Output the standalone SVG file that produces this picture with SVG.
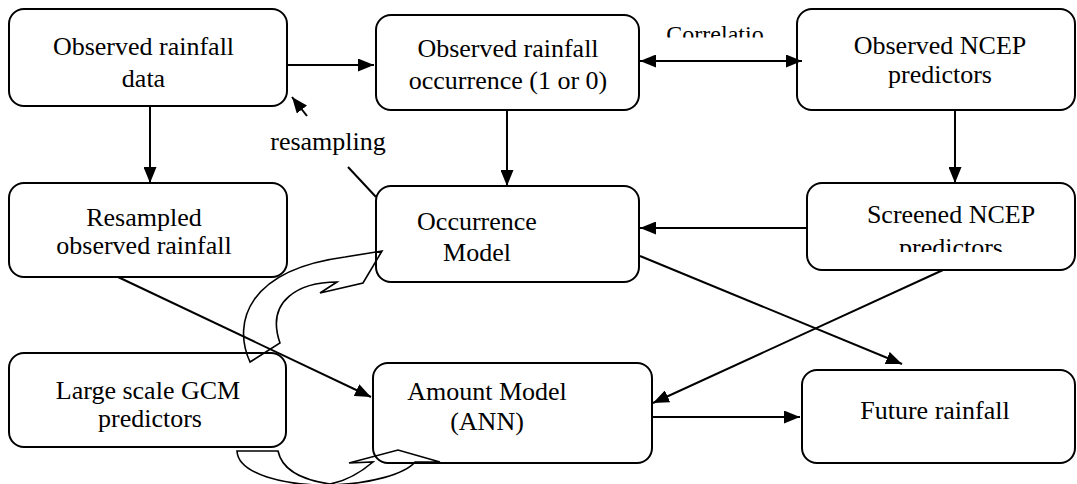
<svg xmlns="http://www.w3.org/2000/svg" width="1077" height="484" viewBox="0 0 1077 484">
<style>
.box{fill:#fff;stroke:#000;stroke-width:2}
.t{font-family:"Liberation Serif","Times New Roman",serif;font-size:26px;fill:#000;text-anchor:middle}
.c{stroke:#000;stroke-width:2;fill:none}
.a{marker-end:url(#ah)}
.cv{fill:none;stroke:#000;stroke-width:1.6;stroke-linejoin:miter}
</style>
<defs>
<marker id="ah" markerUnits="userSpaceOnUse" markerWidth="17" markerHeight="13" refX="16" refY="6.5" orient="auto-start-reverse" viewBox="0 0 17 13">
<path d="M0,0 L16,6.5 L0,13 z" fill="#000"/>
</marker>
<clipPath id="clipCorr"><rect x="600" y="0" width="200" height="37.5"/></clipPath>
<clipPath id="clipPred"><rect x="800" y="180" width="277" height="72"/></clipPath>
</defs>
<rect width="1077" height="484" fill="#fff"/>
<g id="n1"><rect class="box" x="9" y="9" width="278" height="97" rx="15"/><text class="t" x="143.5" y="55">Observed rainfall</text><text class="t" x="143.5" y="87">data</text></g>
<g id="n2"><rect class="box" x="376" y="15" width="263" height="95" rx="15"/><text class="t" x="508" y="57">Observed rainfall</text><text class="t" x="508" y="89">occurrence (1 or 0)</text></g>
<g id="n3"><rect class="box" x="797" y="9" width="278" height="101" rx="15"/><text class="t" x="940" y="54">Observed NCEP</text><text class="t" x="940" y="83">predictors</text></g>
<g id="n4"><rect class="box" x="9" y="183" width="278" height="94" rx="15"/><text class="t" x="144" y="226">Resampled</text><text class="t" x="144" y="254">observed rainfall</text></g>
<g id="n5"><rect class="box" x="376" y="186" width="263" height="96" rx="15"/><text class="t" x="477" y="230">Occurrence</text><text class="t" x="477" y="261">Model</text></g>
<g id="n6"><rect class="box" x="807" y="183" width="268" height="87" rx="15"/><text class="t" x="951" y="223">Screened NCEP</text><text class="t" x="951" y="256" clip-path="url(#clipPred)">predictors</text></g>
<g id="n7"><rect class="box" x="9" y="353" width="277" height="94" rx="15"/><text class="t" x="148" y="399">Large scale GCM</text><text class="t" x="150" y="427">predictors</text></g>
<g id="n8"><rect class="box" x="373" y="363" width="279" height="100" rx="15"/><text class="t" x="487" y="400">Amount Model</text><text class="t" x="487" y="430">(ANN)</text></g>
<g id="n9"><rect class="box" x="802" y="370" width="273" height="93" rx="15"/><text class="t" x="935" y="419">Future rainfall</text></g>
<g id="labels">
<text class="t" x="715" y="42" style="font-size:24px" clip-path="url(#clipCorr)">Correlatio</text>
<text class="t" x="328" y="150">resampling</text>
</g>
<g id="connectors">
<line class="c a" x1="287" y1="65" x2="374" y2="65"/>
<line class="c a" x1="307" y1="116" x2="292" y2="97"/>
<line class="c" x1="348" y1="167" x2="376" y2="197"/>
<line class="c a" x1="150" y1="107" x2="150" y2="183"/>
<line class="c a" x1="507" y1="111" x2="507" y2="186"/>
<line class="c" x1="640" y1="61" x2="802" y2="61" marker-start="url(#ah)" marker-end="url(#ah)"/>
<line class="c a" x1="955" y1="111" x2="955" y2="183"/>
<line class="c a" x1="807" y1="228" x2="640" y2="228"/>
<line class="c a" x1="640" y1="256" x2="902" y2="364"/>
<line class="c a" x1="943" y1="270" x2="653" y2="403"/>
<line class="c a" x1="118" y1="277" x2="371" y2="397"/>
<line class="c a" x1="653" y1="417" x2="800" y2="417"/>
</g>
<g id="curved-arrows">
<path class="cv" d="M250,362 C232,322 248,270 345,257 L382,251 L363,283 L320,293 L337,282 C300,282 265,300 280,343 Z"/>
<path class="cv" d="M237,451 C238,474 285,486 330,485 C370,484 405,474 415,462 L440,462 L398,450 L349,463 L373,462 C360,473 346,481 330,484 C302,480 282,470 278,451 Z"/>
</g>
</svg>
